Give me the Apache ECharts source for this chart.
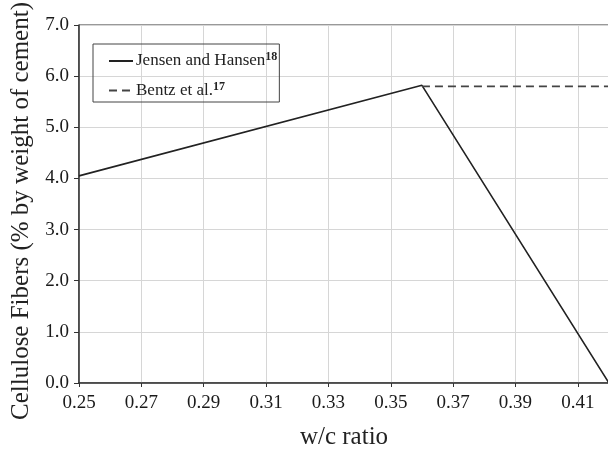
<!DOCTYPE html>
<html>
<head>
<meta charset="utf-8">
<script src="https://cdn.jsdelivr.net/npm/echarts@6/dist/echarts.min.js"></script>
<style>html,body{margin:0;padding:0;background:#fff}#c{width:608px;height:449px}</style>
</head>
<body>
<div id="c"></div>
<script>
const jensenX = [0.25, 0.36, 0.42];
const jensenY = [4.05, 5.82, 0.0];
const bentzX = [0.36, 0.42];
const bentzY = [5.80, 5.80];
const xTicks = [0.25, 0.27, 0.29, 0.31, 0.33, 0.35, 0.37, 0.39, 0.41];
const yTicks = [0, 1, 2, 3, 4, 5, 6, 7];
const seriesNames = ['Jensen and Hansen', 'Bentz et al.'];
const refNums = ['18', '17'];

const font = 'Liberation Serif';
const chart = echarts.init(document.getElementById('c'));
chart.setOption({
  animation: false,
  textStyle: { fontFamily: font },
  grid: { left: 79, right: -1, top: 25, bottom: 66, show: true, borderColor: '#333', borderWidth: 1,
    outerBoundsMode: 'none', containLabel: false },
  legend: {
    orient: 'vertical', left: 93, top: 44,
    borderColor: '#444', borderWidth: 1, padding: [7, 2, 3, 15],
    itemWidth: 24, itemHeight: 14, itemGap: 11,
    itemStyle: { opacity: 0 },
    data: seriesNames,
    formatter: function (n) { return n + '{sup|' + refNums[seriesNames.indexOf(n)] + '}'; },
    textStyle: {
      fontFamily: font, fontSize: 17, color: '#222', padding: [0, 0, 0, -2],
      rich: { sup: { fontFamily: font, fontSize: 12, fontWeight: 'bold', color: '#222', verticalAlign: 'top', padding: [0, 0, 8, 0] } }
    }
  },
  xAxis: {
    type: 'value', min: 0.25, max: 0.42,
    name: 'w/c ratio', nameLocation: 'middle', nameGap: 42,
    nameTextStyle: { fontFamily: font, fontSize: 25, color: '#222' },
    axisLine: { lineStyle: { color: '#333', width: 1.5 } },
    axisTick: { show: true, length: 4, customValues: xTicks, lineStyle: { color: '#333' } },
    axisLabel: { customValues: xTicks, fontFamily: font, fontSize: 19, color: '#1a1a1a', margin: 11,
      formatter: v => v.toFixed(2) },
    splitLine: { show: true, lineStyle: { color: '#d6d6d6' } }
  },
  yAxis: {
    type: 'value', min: 0, max: 7, interval: 1,
    name: 'Cellulose Fibers (% by weight of cement)', nameLocation: 'middle', nameGap: 45,
    nameTextStyle: { fontFamily: font, fontSize: 25, color: '#222', padding: [0, 14, 0, 0] },
    axisLine: { show: true, lineStyle: { color: '#333', width: 1.5 } },
    axisTick: { show: true, length: 5, lineStyle: { color: '#333' } },
    axisLabel: { fontFamily: font, fontSize: 19, color: '#1a1a1a', margin: 10, formatter: v => v.toFixed(1) },
    splitLine: { show: true, lineStyle: { color: '#d6d6d6' } }
  },
  series: [
    { name: seriesNames[0], type: 'line', symbol: 'none',
      data: jensenX.map((x, i) => [x, jensenY[i]]),
      lineStyle: { color: '#222', width: 1.6 }, itemStyle: { color: '#222' } },
    { name: seriesNames[1], type: 'line', symbol: 'none',
      data: bentzX.map((x, i) => [x, bentzY[i]]),
      lineStyle: { color: '#444', width: 1.6, type: [8, 5] }, itemStyle: { color: '#444' } }
  ]
});
</script>
</body>
</html>
